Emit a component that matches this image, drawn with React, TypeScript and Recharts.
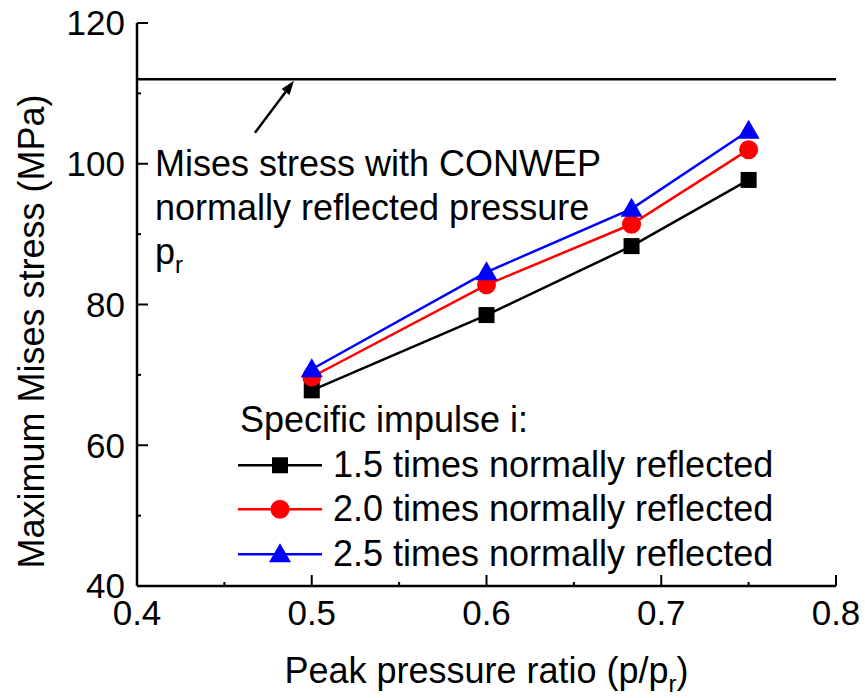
import React from 'react';
import { LineChart, Line, XAxis, YAxis, ReferenceLine, Legend } from 'recharts';

// ---------- data ----------
const pressureRatio = [0.5, 0.6, 0.683, 0.75];
const impulse15 = [67.8, 78.5, 88.3, 97.7];
const impulse20 = [69.7, 82.8, 91.4, 102.0];
const impulse25 = [70.8, 84.6, 93.6, 104.7];
const conwepStress = 112;
const arrowTail = { x: 0.4675, y: 104.4 };
const arrowHead = { x: 0.4898, y: 111.8 };

const xMajorTicks = [0.4, 0.5, 0.6, 0.7, 0.8];
const xMinorTicks = [0.45, 0.55, 0.65, 0.75];
const yMajorTicks = [40, 60, 80, 100, 120];
const yMinorTicks = [50, 70, 90, 110];

const seriesNames = [
  '1.5 times normally reflected',
  '2.0 times normally reflected',
  '2.5 times normally reflected',
];
const seriesColors = ['#000000', '#ff0000', '#0000ff'];
const legendTitle = 'Specific impulse i:';
const annotationLines = ['Mises stress with CONWEP', 'normally reflected pressure'];
const yTitle = 'Maximum Mises stress (MPa)';

const data = pressureRatio.map((x, i) => ({
  x,
  s15: impulse15[i],
  s20: impulse20[i],
  s25: impulse25[i],
}));

const FONT = '"Liberation Sans", Arial, Helvetica, sans-serif';
const xAllTicks = [...xMajorTicks, ...xMinorTicks].sort((a, b) => a - b);
const yAllTicks = [...yMajorTicks, ...yMinorTicks].sort((a, b) => a - b);
const isIn = (v: number, arr: number[]) => arr.some((t) => Math.abs(t - v) < 1e-9);
const MAJOR = 11;
const MINOR = 4;
const AX = 2.5;

// ---------- ticks ----------
const BottomTick = (props: any) => {
  const { x, y, payload } = props;
  const major = isIn(payload.value, xMajorTicks);
  const axisY = y - 14;
  return (
    <g>
      <line x1={x} x2={x} y1={axisY} y2={axisY - (major ? MAJOR : MINOR)} stroke="#000" strokeWidth={2} />
      {major && (
        <text x={x} y={y} dy="0.71em" textAnchor="middle" fontSize={35} fontFamily={FONT} fill="#000">
          {Number(payload.value).toFixed(1)}
        </text>
      )}
    </g>
  );
};
const TopTick = (props: any) => {
  const { x, y, payload } = props;
  const major = isIn(payload.value, xMajorTicks);
  return <line x1={x} x2={x} y1={y} y2={y + (major ? MAJOR : MINOR)} stroke="#000" strokeWidth={2} />;
};
const LeftTick = (props: any) => {
  const { x, y, payload } = props;
  const major = isIn(payload.value, yMajorTicks);
  const axisX = x + 12;
  return (
    <g>
      <line x1={axisX} x2={axisX + (major ? MAJOR : MINOR)} y1={y} y2={y} stroke="#000" strokeWidth={2} />
      {major && (
        <text x={x} y={y} dy="0.355em" textAnchor="end" fontSize={35} fontFamily={FONT} fill="#000">
          {payload.value}
        </text>
      )}
    </g>
  );
};
const RightTick = (props: any) => {
  const { x, y, payload } = props;
  const major = isIn(payload.value, yMajorTicks);
  return <line x1={x} x2={x - (major ? MAJOR : MINOR)} y1={y} y2={y} stroke="#000" strokeWidth={2} />;
};

// ---------- markers ----------
const SquareDot = (p: any) => (
  <rect key={`sq-${p.index}`} x={p.cx - 8} y={p.cy - 8} width={16} height={16} fill="#000" />
);
const CircleDot = (p: any) => <circle key={`ci-${p.index}`} cx={p.cx} cy={p.cy} r={9.5} fill="#ff0000" />;
const TriDot = (p: any) => (
  <polygon
    key={`tr-${p.index}`}
    points={`${p.cx},${p.cy - 11} ${p.cx - 11},${p.cy + 8} ${p.cx + 11},${p.cy + 8}`}
    fill="#0000ff"
  />
);

const MarkerIcon = ({ i, cx, cy }: { i: number; cx: number; cy: number }) => {
  if (i === 0) return <rect x={cx - 8} y={cy - 8} width={16} height={16} fill="#000" />;
  if (i === 1) return <circle cx={cx} cy={cy} r={9.5} fill="#ff0000" />;
  return <polygon points={`${cx},${cy - 11} ${cx - 11},${cy + 8} ${cx + 11},${cy + 8}`} fill="#0000ff" />;
};

// ---------- legend ----------
const ROW = 44.5;
const LegendContent = () => (
  <div style={{ fontFamily: FONT, fontSize: 36, color: '#000', lineHeight: `${ROW}px` }}>
    <div style={{ height: ROW, whiteSpace: 'nowrap', paddingLeft: 2 }}>{legendTitle}</div>
    {seriesNames.map((name, i) => (
      <div key={name} style={{ height: ROW, display: 'flex', alignItems: 'center', whiteSpace: 'nowrap' }}>
        <svg width={95} height={ROW} style={{ display: 'block' }}>
          <line x1={0} x2={84} y1={ROW / 2} y2={ROW / 2} stroke={seriesColors[i]} strokeWidth={2.5} />
          <MarkerIcon i={i} cx={42} cy={ROW / 2} />
        </svg>
        <span>{name}</span>
      </div>
    ))}
  </div>
);

// ---------- arrow ----------
const ArrowShape = (props: any) => {
  const { x1, y1, x2, y2 } = props;
  const ang = Math.atan2(y2 - y1, x2 - x1);
  const L = 14;
  const W = 5;
  const bx = x2 - L * Math.cos(ang);
  const by = y2 - L * Math.sin(ang);
  const px = -Math.sin(ang) * W;
  const py = Math.cos(ang) * W;
  return (
    <g>
      <line x1={x1} y1={y1} x2={bx} y2={by} stroke="#000" strokeWidth={2.5} />
      <polygon points={`${x2},${y2} ${bx + px},${by + py} ${bx - px},${by - py}`} fill="#000" />
    </g>
  );
};

export default function App() {
  return (
    <div style={{ position: 'absolute', left: 0, top: 0, width: 865, height: 698, background: '#fff' }}>
      <LineChart
        width={865}
        height={698}
        data={data}
        margin={{ top: 23, right: 29, bottom: 0, left: 0 }}
      >
        <XAxis
          xAxisId={0}
          dataKey="x"
          type="number"
          domain={[0.4, 0.8]}
          ticks={xAllTicks}
          interval={0}
          height={112}
          tickSize={0}
          tickMargin={14}
          tick={<BottomTick />}
          axisLine={{ stroke: '#000', strokeWidth: AX }}
          label={(p: any) => {
            const vb = p.viewBox;
            const cx = vb.x + vb.width / 2;
            return (
              <text x={cx} y={683} textAnchor="middle" fontSize={36} fontFamily={FONT} fill="#000">
                Peak pressure ratio (p/p
                <tspan fontSize={24} dy={9}>r</tspan>
                <tspan dy={-9}>)</tspan>
              </text>
            );
          }}
        />
        <XAxis
          xAxisId="top"
          orientation="top"
          dataKey="x"
          type="number"
          domain={[0.4, 0.8]}
          ticks={xAllTicks}
          interval={0}
          height={0}
          tickSize={0}
          tickMargin={0}
          tick={<TopTick />}
          axisLine={{ stroke: '#000', strokeWidth: AX }}
        />
        <YAxis
          yAxisId={0}
          type="number"
          domain={[40, 120]}
          ticks={yAllTicks}
          interval={0}
          width={137}
          tickSize={0}
          tickMargin={12}
          tick={<LeftTick />}
          axisLine={{ stroke: '#000', strokeWidth: AX }}
          label={(p: any) => {
            const vb = p.viewBox;
            const cy = vb.y + vb.height / 2 + 27;
            return (
              <text
                x={44}
                y={cy}
                transform={`rotate(-90 44 ${cy})`}
                textAnchor="middle"
                fontSize={36}
                fontFamily={FONT}
                fill="#000"
              >
                {yTitle}
              </text>
            );
          }}
        />
        <YAxis
          yAxisId="right"
          orientation="right"
          type="number"
          domain={[40, 120]}
          ticks={yAllTicks}
          interval={0}
          width={0}
          tickSize={0}
          tickMargin={0}
          tick={<RightTick />}
          axisLine={{ stroke: '#000', strokeWidth: AX }}
        />
        <ReferenceLine y={conwepStress} stroke="#000" strokeWidth={AX} />
        <ReferenceLine segment={[arrowTail, arrowHead]} shape={<ArrowShape />} />
        <Line
          dataKey="s15"
          name={seriesNames[0]}
          stroke={seriesColors[0]}
          strokeWidth={2.5}
          dot={SquareDot}
          activeDot={false}
          isAnimationActive={false}
        />
        <Line
          dataKey="s20"
          name={seriesNames[1]}
          stroke={seriesColors[1]}
          strokeWidth={2.5}
          dot={CircleDot}
          activeDot={false}
          isAnimationActive={false}
        />
        <Line
          dataKey="s25"
          name={seriesNames[2]}
          stroke={seriesColors[2]}
          strokeWidth={2.5}
          dot={TriDot}
          activeDot={false}
          isAnimationActive={false}
        />
        <text x={155} y={176} fontSize={36} fontFamily={FONT} fill="#000">
          {annotationLines[0]}
        </text>
        <text x={155} y={220} fontSize={36} fontFamily={FONT} fill="#000">
          {annotationLines[1]}
        </text>
        <text x={155} y={264} fontSize={36} fontFamily={FONT} fill="#000">
          p<tspan fontSize={24} dy={9}>r</tspan>
        </text>
        <Legend
          layout="vertical"
          align="center"
          verticalAlign="middle"
          content={<LegendContent />}
          wrapperStyle={{ position: 'absolute', left: 238, top: 398, width: 'auto', margin: 0 }}
        />
      </LineChart>
    </div>
  );
}
